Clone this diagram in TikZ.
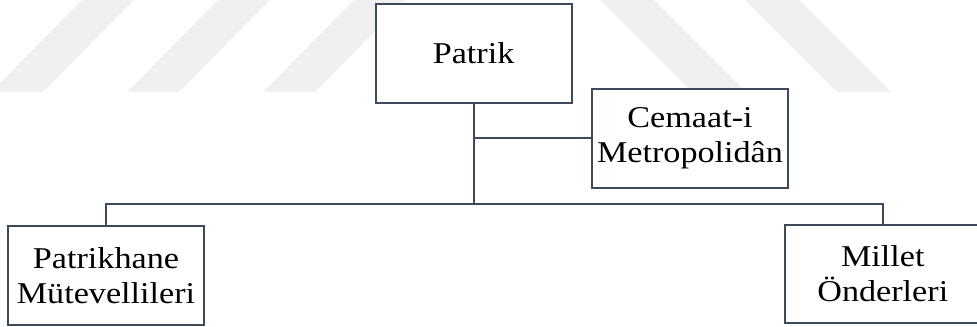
\documentclass[tikz,border=0pt]{standalone}
\usepackage{fontspec}
\setmainfont{Liberation Serif}[FakeStretch=1.13]
\definecolor{boxline}{RGB}{62,74,92}
\tikzset{
  orgbox/.style={draw=boxline,line width=1.4pt,rectangle,fill=white,inner sep=0pt,
    minimum width=4.9cm,minimum height=2.46cm,align=center,
    font=\fontsize{21.5}{24.8}\selectfont},
  orgline/.style={draw=boxline,line width=1.4pt},
  mark stripe/.style={fill=gray!12,draw=none}
}
\begin{document}
\begin{tikzpicture}
		\useasboundingbox (0,0) rectangle (24.425,-8.175);
		% faint stripes in the background
		\path[mark stripe] (-0.225,-2.3) -- (1.075,-2.3) -- (3.35,0) -- (2.05,0) -- cycle;
		\path[mark stripe] (3.175,-2.3) -- (4.475,-2.3) -- (6.75,0) -- (5.45,0) -- cycle;
		\path[mark stripe] (6.575,-2.3) -- (7.875,-2.3) -- (10.15,0) -- (8.85,0) -- cycle;
		\path[mark stripe] (15,0) -- (16.35,0) -- (18.65,-2.3) -- (17.3,-2.3) -- cycle;
		\path[mark stripe] (18.625,0) -- (19.975,0) -- (22.275,-2.3) -- (20.925,-2.3) -- cycle;

		% boxes
		\node[orgbox] (patrik) at (11.84,-1.34) {Patrik};
		\node[orgbox] (cemaat) at (17.25,-3.46) {Cemaat-i\\Metropolidân};
		\node[orgbox] (mutevelli) at (2.65,-6.89) {Patrikhane\\Mütevellileri};
		\node[orgbox] (onder) at (22.07,-6.85) {Millet\\Önderleri};
		\coordinate (bus) at (11.84,-5.1);

		% connectors
		\draw[orgline] (patrik) -- (bus);
		\draw[orgline] (cemaat.west) -| (bus);
		\draw[orgline] (mutevelli.north) |- (bus) -| (onder.north);
	\end{tikzpicture}
\end{document}
